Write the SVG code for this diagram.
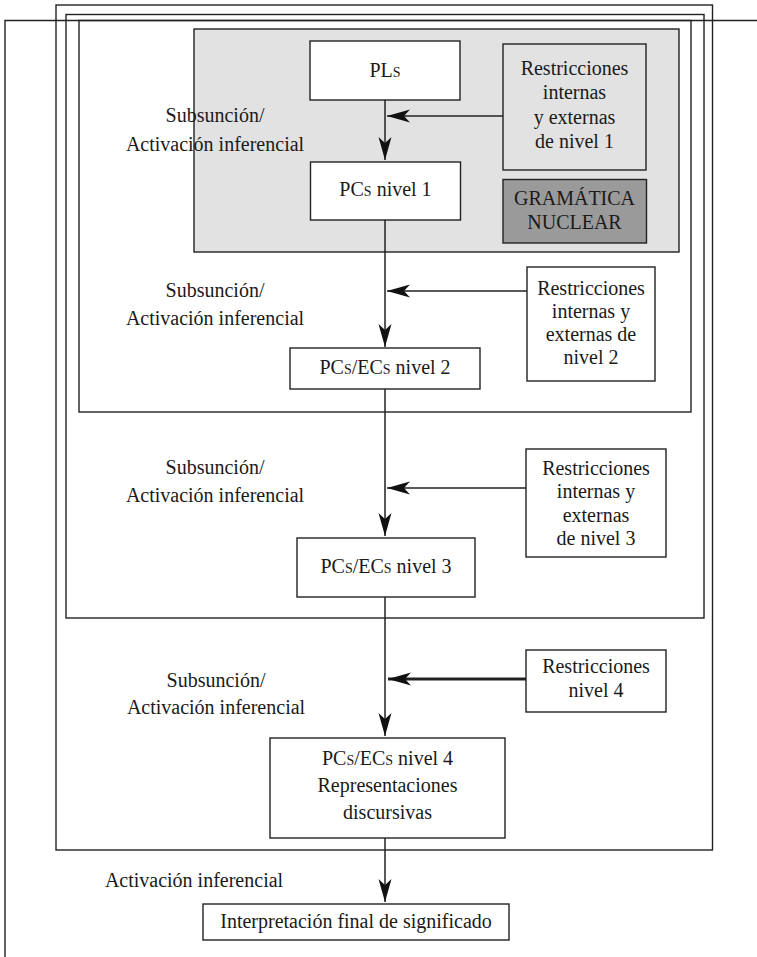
<svg xmlns="http://www.w3.org/2000/svg" width="757" height="957" viewBox="0 0 757 957">
  <style>
    .frame { fill: none; stroke: #222; stroke-width: 1.4; }
    .box { fill: #fff; stroke: #222; stroke-width: 1.4; }
    .gbox { fill: #e2e2e2; stroke: #222; stroke-width: 1.4; }
    .dbox { fill: #9a9a9a; stroke: #222; stroke-width: 1.4; }
    .link { fill: none; stroke: #222; stroke-width: 1.5; }
    .thick { stroke-width: 3; }
    text { font-family: "Liberation Serif", "Times New Roman", serif; font-size: 20px; fill: #1a1a1a; }
    .c { text-anchor: middle; }
    .sc { font-variant: small-caps; }
  </style>
  <defs>
    <marker id="arrow" markerUnits="userSpaceOnUse" markerWidth="26" markerHeight="16" viewBox="-24 -8 26 16" refX="0" refY="0" orient="auto">
      <path d="M0,0 L-23,-6.5 L-17,0 L-23,6.5 Z" fill="#111"/>
    </marker>
  </defs>

  <!-- nested frames -->
  <g id="frames">
    <path class="frame" d="M5,957 V20.5 H757"/>
    <rect class="frame" x="56" y="5" width="656.5" height="845"/>
    <rect class="frame" x="66" y="14.5" width="638" height="603.5"/>
    <rect class="frame" x="79" y="20.5" width="612" height="391.5"/>
  </g>

  <!-- core grammar zone -->
  <g id="core">
    <rect class="gbox" x="194" y="29" width="485" height="223"/>
  </g>

  <g id="connectors">
    <line class="link" x1="385" y1="100" x2="385" y2="160" marker-end="url(#arrow)"/>
    <line class="link" x1="503" y1="116" x2="387" y2="116" marker-end="url(#arrow)"/>
    <line class="link" x1="385" y1="220" x2="385" y2="347" marker-end="url(#arrow)"/>
    <line class="link" x1="527" y1="291" x2="387" y2="291" marker-end="url(#arrow)"/>
    <line class="link" x1="385" y1="389" x2="385" y2="536" marker-end="url(#arrow)"/>
    <line class="link" x1="526" y1="488" x2="387" y2="488" marker-end="url(#arrow)"/>
    <line class="link" x1="385" y1="597" x2="385" y2="736" marker-end="url(#arrow)"/>
    <line class="link thick" x1="526" y1="679" x2="388" y2="679" marker-end="url(#arrow)"/>
    <line class="link" x1="385" y1="838" x2="385" y2="902" marker-end="url(#arrow)"/>
  </g>

  <g id="labels">
    <text class="c" x="215" y="122">Subsunción/</text>
    <text class="c" x="215" y="151">Activación inferencial</text>
    <text class="c" x="215" y="297">Subsunción/</text>
    <text class="c" x="215" y="325">Activación inferencial</text>
    <text class="c" x="215" y="474">Subsunción/</text>
    <text class="c" x="215" y="502">Activación inferencial</text>
    <text class="c" x="216" y="687">Subsunción/</text>
    <text class="c" x="216" y="714">Activación inferencial</text>
    <text class="c" x="194" y="887">Activación inferencial</text>
  </g>

  <g id="pls">
    <rect class="box" x="310" y="41" width="150" height="59"/>
    <text class="c" x="385" y="77">PL<tspan class="sc">s</tspan></text>
  </g>

  <g id="restr1">
    <rect class="gbox" x="503" y="44" width="143" height="126"/>
    <text class="c" x="574.5" y="75">Restricciones</text>
    <text class="c" x="574.5" y="99">internas</text>
    <text class="c" x="574.5" y="124">y externas</text>
    <text class="c" x="574.5" y="148">de nivel 1</text>
  </g>

  <g id="pcs1">
    <rect class="box" x="310.5" y="162" width="150" height="58"/>
    <text class="c" x="385.5" y="196">PC<tspan class="sc">s</tspan> nivel 1</text>
  </g>

  <g id="gramatica">
    <rect class="dbox" x="503" y="179.5" width="143.5" height="63.5"/>
    <text class="c" x="574.5" y="205">GRAMÁTICA</text>
    <text class="c" x="574.5" y="229">NUCLEAR</text>
  </g>

  <g id="restr2">
    <rect class="box" x="527" y="267" width="128" height="114"/>
    <text class="c" x="591" y="295">Restricciones</text>
    <text class="c" x="591" y="318">internas y</text>
    <text class="c" x="591" y="341">externas de</text>
    <text class="c" x="591" y="364">nivel 2</text>
  </g>

  <g id="pcs2">
    <rect class="box" x="290" y="348" width="190" height="41"/>
    <text class="c" x="385" y="374">PC<tspan class="sc">s</tspan>/EC<tspan class="sc">s</tspan> nivel 2</text>
  </g>

  <g id="restr3">
    <rect class="box" x="526" y="449" width="140" height="108"/>
    <text class="c" x="596" y="475">Restricciones</text>
    <text class="c" x="596" y="498">internas y</text>
    <text class="c" x="596" y="522">externas</text>
    <text class="c" x="596" y="545">de nivel 3</text>
  </g>

  <g id="pcs3">
    <rect class="box" x="297" y="538" width="178" height="59"/>
    <text class="c" x="386" y="573">PC<tspan class="sc">s</tspan>/EC<tspan class="sc">s</tspan> nivel 3</text>
  </g>

  <g id="restr4">
    <rect class="box" x="526" y="650" width="140" height="62"/>
    <text class="c" x="596" y="673">Restricciones</text>
    <text class="c" x="596" y="697">nivel 4</text>
  </g>

  <g id="pcs4">
    <rect class="box" x="270" y="738" width="235" height="100"/>
    <text class="c" x="387.5" y="765">PC<tspan class="sc">s</tspan>/EC<tspan class="sc">s</tspan> nivel 4</text>
    <text class="c" x="387.5" y="792">Representaciones</text>
    <text class="c" x="387.5" y="819">discursivas</text>
  </g>

  <g id="interpretacion">
    <rect class="box" x="203" y="904" width="306" height="36"/>
    <text class="c" x="356" y="928">Interpretación final de significado</text>
  </g>
</svg>
